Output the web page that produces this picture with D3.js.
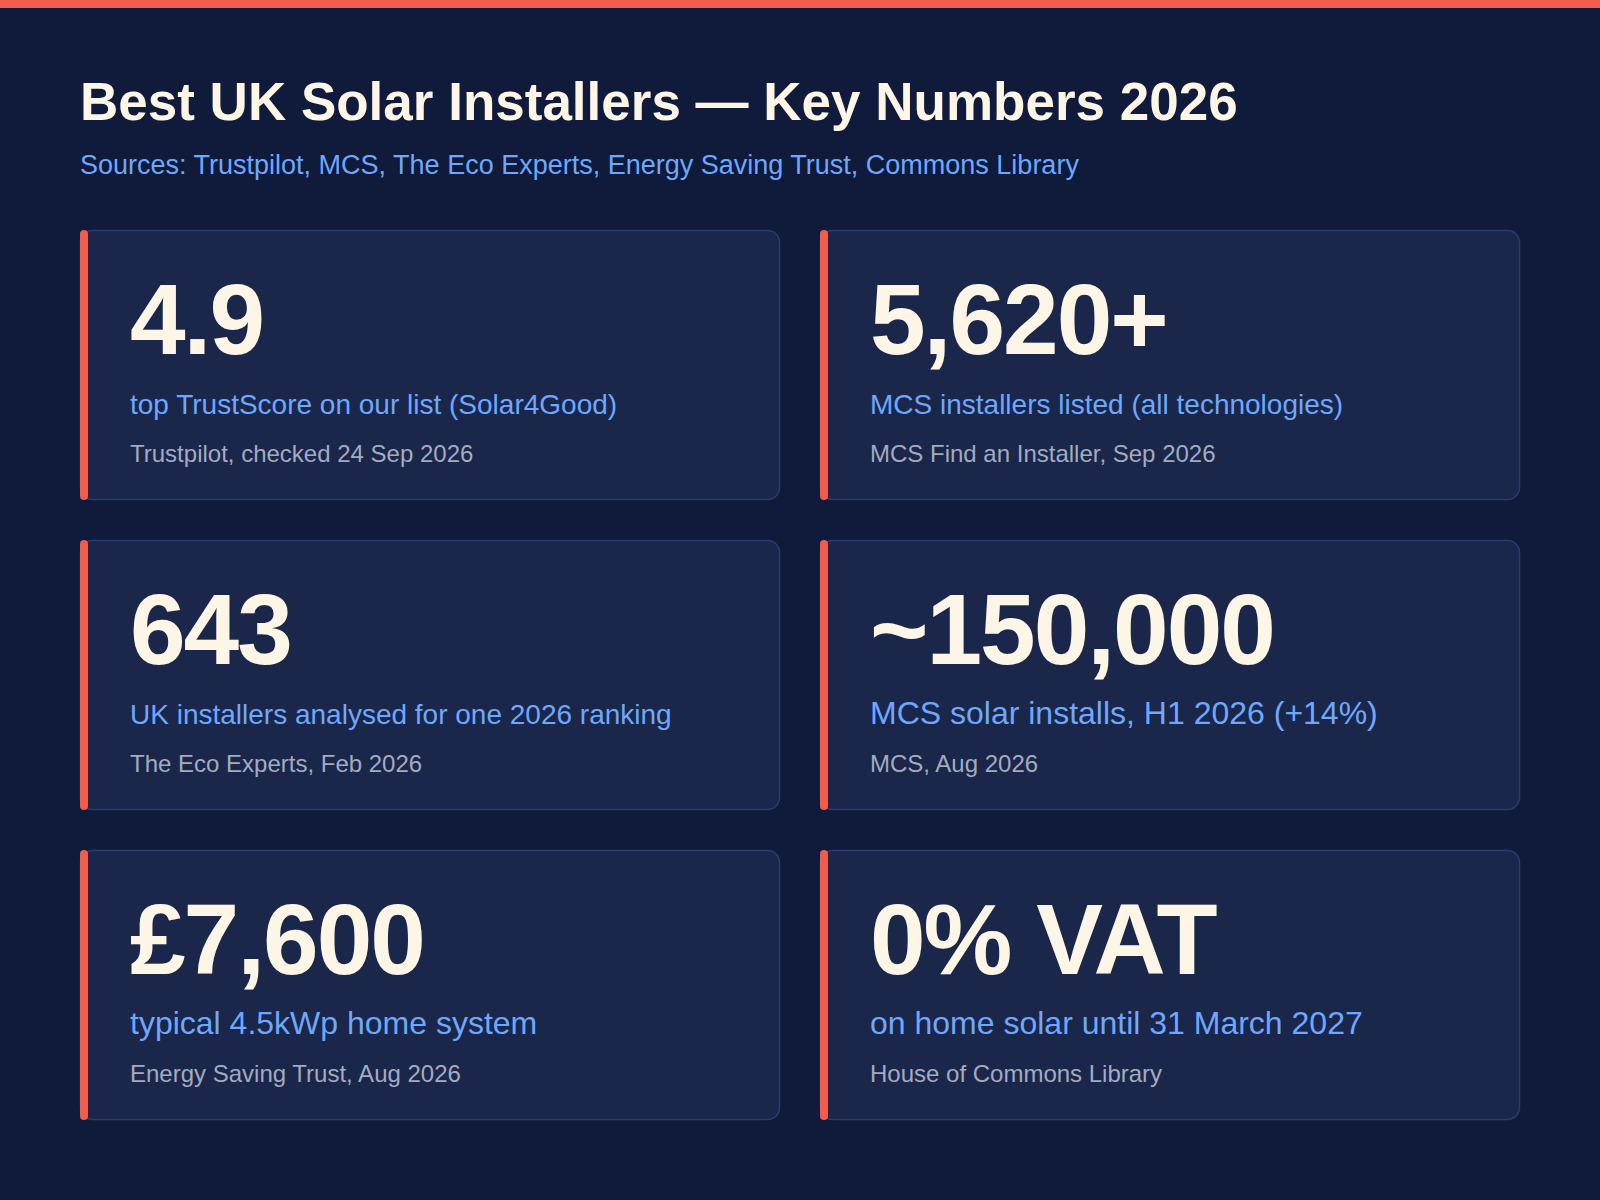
<!DOCTYPE html><html><head><meta charset="utf-8">
<script src="https://cdn.jsdelivr.net/npm/d3@7"></script>
<style>body{margin:0;background:#101a3a;}svg{display:block;font-family:"Liberation Sans",Arial,sans-serif;}</style>
</head><body><svg id="c" width="1600" height="1200"></svg>
<script>
const values = ["4.9","5,620+","643","~150,000","£7,600","0% VAT"];
const labels = ["top TrustScore on our list (Solar4Good)","MCS installers listed (all technologies)","UK installers analysed for one 2026 ranking","MCS solar installs, H1 2026 (+14%)","typical 4.5kWp home system","on home solar until 31 March 2027"];
const labelSizes = [28,28,28,32,32,32];
const sources = ["Trustpilot, checked 24 Sep 2026","MCS Find an Installer, Sep 2026","The Eco Experts, Feb 2026","MCS, Aug 2026","Energy Saving Trust, Aug 2026","House of Commons Library"];
const svg = d3.select("#c");
svg.append("rect").attr("width",1600).attr("height",1200).attr("fill","#101a3a");
svg.append("rect").attr("width",1600).attr("height",8).attr("fill","#f25c4a");
svg.append("text").attr("x",80).attr("y",120).attr("fill","#fdf5e6").attr("font-size",53).attr("font-weight","bold").text("Best UK Solar Installers — Key Numbers 2026");
svg.append("text").attr("x",80).attr("y",174).attr("fill","#6ea8fe").attr("font-size",27).text("Sources: Trustpilot, MCS, The Eco Experts, Energy Saving Trust, Commons Library");
const x = d3.scaleBand().domain([0,1]).range([80,1520]).paddingInner(40/740);
const y = d3.scaleBand().domain([0,1,2]).range([230,1120]).paddingInner(40/310);
const g = svg.selectAll("g.card").data(values).join("g").attr("class","card")
  .attr("transform",(d,i)=>`translate(${x(i%2)},${y(Math.floor(i/2))})`);
const w = x.bandwidth(), h = y.bandwidth();
g.append("rect").attr("x",0.5).attr("y",0.5).attr("width",w-1).attr("height",h-1).attr("rx",12)
  .attr("fill","#1a264a").attr("stroke","#2b3c6e").attr("stroke-width",1.5);
g.append("rect").attr("x",0).attr("y",0).attr("width",8).attr("height",h).attr("rx",4).attr("fill","#f25c4a");
g.append("text").attr("x",50).attr("y",124).attr("fill","#fdf5e6").attr("font-size",100).attr("font-weight","bold").attr("letter-spacing",-2).text(d=>d);
g.append("text").attr("x",50).attr("y",184).attr("fill","#6ea8fe").attr("font-size",(d,i)=>labelSizes[i]).text((d,i)=>labels[i]);
g.append("text").attr("x",50).attr("y",232).attr("fill","#a3abc0").attr("font-size",24).text((d,i)=>sources[i]);
</script></body></html>
